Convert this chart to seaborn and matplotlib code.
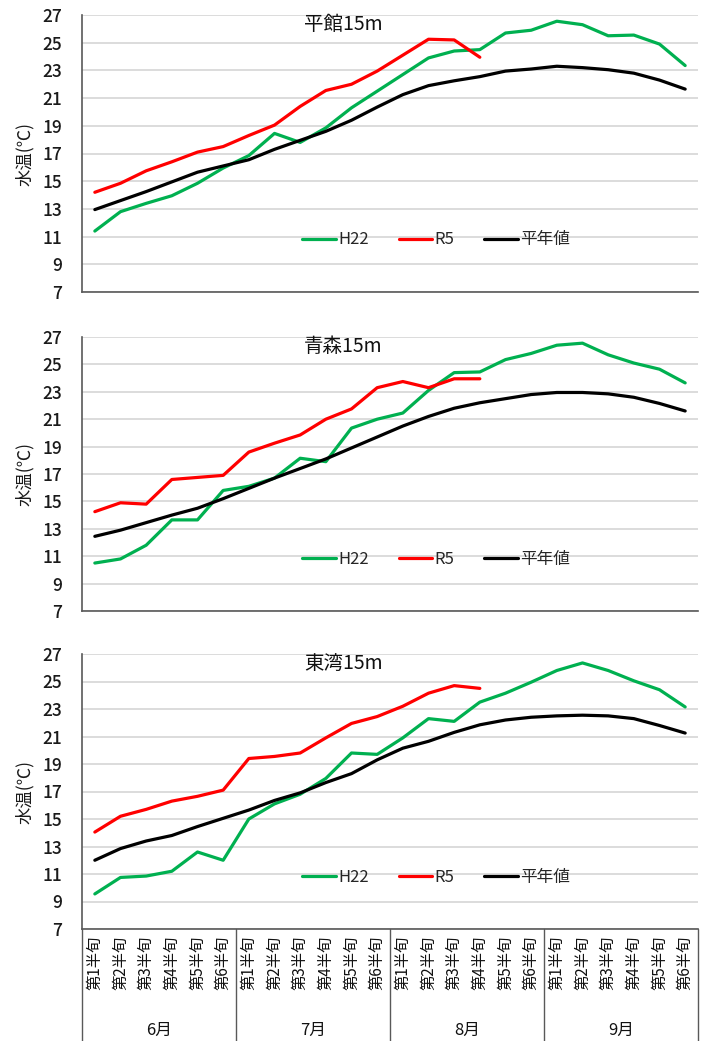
import numpy as np
import pandas as pd
import matplotlib
matplotlib.use("Agg")
import matplotlib.pyplot as plt
import matplotlib.transforms as mtransforms
import seaborn as sns

# Half-month periods (半旬) June–September
months = ["6月", "7月", "8月", "9月"]
periods = ["第1半旬", "第2半旬", "第3半旬", "第4半旬", "第5半旬", "第6半旬"]
series_names = ["H22", "R5", "平年値"]
stations = ["平館15m", "青森15m", "東湾15m"]

# 平館 15m
tairadate_h22 = [11.4, 12.8, 13.4, 13.95, 14.85, 15.95, 16.85, 18.45, 17.8, 18.85, 20.3, 21.5,
                 22.7, 23.9, 24.4, 24.5, 25.7, 25.9, 26.55, 26.3, 25.5, 25.55, 24.9, 23.35]
tairadate_r5 = [14.2, 14.85, 15.75, 16.4, 17.1, 17.5, 18.3, 19.05, 20.4, 21.55, 22.0, 22.95,
                24.1, 25.25, 25.2, 23.95]
tairadate_avg = [12.95, 13.6, 14.25, 14.95, 15.65, 16.1, 16.55, 17.3, 17.95, 18.6, 19.4, 20.35,
                 21.25, 21.9, 22.25, 22.55, 22.95, 23.1, 23.3, 23.2, 23.05, 22.8, 22.3, 21.65]

# 青森 15m
aomori_h22 = [10.5, 10.8, 11.8, 13.65, 13.65, 15.8, 16.1, 16.7, 18.15, 17.9, 20.35, 21.0,
              21.45, 23.1, 24.4, 24.45, 25.35, 25.8, 26.4, 26.55, 25.7, 25.1, 24.65, 23.65]
aomori_r5 = [14.25, 14.9, 14.8, 16.6, 16.75, 16.9, 18.6, 19.25, 19.85, 21.0, 21.75, 23.3,
             23.75, 23.3, 23.95, 23.95]
aomori_avg = [12.45, 12.9, 13.45, 14.0, 14.5, 15.2, 15.95, 16.7, 17.4, 18.1, 18.9, 19.7,
              20.5, 21.2, 21.8, 22.2, 22.5, 22.8, 22.95, 22.95, 22.85, 22.6, 22.15, 21.6]

# 東湾 15m
higashi_h22 = [9.55, 10.75, 10.85, 11.2, 12.6, 12.0, 15.0, 16.1, 16.8, 17.95, 19.8, 19.7,
               20.9, 22.3, 22.1, 23.5, 24.15, 24.95, 25.8, 26.35, 25.8, 25.05, 24.4, 23.15]
higashi_r5 = [14.05, 15.2, 15.7, 16.3, 16.65, 17.1, 19.4, 19.55, 19.8, 20.9, 21.95, 22.45,
              23.2, 24.15, 24.7, 24.5]
higashi_avg = [12.0, 12.85, 13.4, 13.8, 14.45, 15.05, 15.65, 16.35, 16.9, 17.65, 18.3, 19.3,
               20.15, 20.65, 21.3, 21.85, 22.2, 22.4, 22.5, 22.55, 22.5, 22.3, 21.8, 21.25]

station_data = [
    (tairadate_h22, tairadate_r5, tairadate_avg),
    (aomori_h22, aomori_r5, aomori_avg),
    (higashi_h22, higashi_r5, higashi_avg),
]

palette = {"H22": "#00B050", "R5": "#FF0000", "平年値": "#000000"}

sns.set_theme(style="white")
plt.rcParams["font.family"] = ["Noto Sans CJK JP", "DejaVu Sans"]

W, H = 710, 1041
fig = plt.figure(figsize=(W / 100, H / 100), dpi=100)

# panel extents in pixels (top, bottom)
panel_px = [(15, 292), (337, 611), (654, 929)]
left_px, right_px = 82, 698

n = len(months) * len(periods)

axes = []
for (top, bot), name, (h22, r5, avg) in zip(panel_px, stations, station_data):
    ax = fig.add_axes([left_px / W, 1 - bot / H, (right_px - left_px) / W, (bot - top) / H])
    axes.append(ax)

    rows = []
    for sname, vals in zip(series_names, (h22, r5, avg)):
        for i, v in enumerate(vals):
            rows.append({"x": i, "temp": v, "series": sname})
    df = pd.DataFrame(rows)

    sns.lineplot(data=df, x="x", y="temp", hue="series", hue_order=series_names,
                 palette=palette, linewidth=2.3, ax=ax, legend=False, sort=True,
                 estimator=None)

    ax.set_xlim(-0.5, n - 0.5)
    ax.set_ylim(7, 27)
    ax.set_yticks(np.arange(7, 28, 2))
    ax.tick_params(axis="y", length=0, pad=14, labelsize=12.5, labelcolor="#1a1a1a")
    for lbl in ax.get_yticklabels():
        lbl.set_fontweight("medium")
    ax.set_xticks([])
    ax.grid(axis="y", color="#d9d9d9", linewidth=1.3)
    ax.set_axisbelow(True)
    for side in ("top", "right"):
        ax.spines[side].set_visible(False)
    for side in ("left", "bottom"):
        ax.spines[side].set_color("#595959")
        ax.spines[side].set_linewidth(1.2)
    ax.set_xlabel("")
    ax.set_ylabel("水温(℃)", fontsize=12.5, color="#1a1a1a")
    ax.yaxis.set_label_coords(-0.078, 0.5)

    ax.text(0.424, 0.967, name, transform=ax.transAxes, ha="center", va="center",
            fontsize=14, color="#111111")

    handles = [plt.Line2D([], [], color=palette[s], linewidth=2.3) for s in series_names]
    ax.legend(handles, series_names, loc="center", bbox_to_anchor=(0.575, 0.188), ncol=3,
              frameon=False, fontsize=12, handlelength=2.0, handletextpad=0.15,
              columnspacing=1.8)

# category axis beneath the bottom panel
ax = axes[-1]
trans = mtransforms.blended_transform_factory(ax.transData, ax.transAxes)
depth = (H - panel_px[-1][1]) / (panel_px[-1][1] - panel_px[-1][0])
for k in range(len(months) + 1):
    xb = -0.5 + k * len(periods)
    ax.plot([xb, xb], [0, -depth], transform=trans, color="#595959", linewidth=1.0,
            clip_on=False)
for m, month in enumerate(months):
    for p, per in enumerate(periods):
        xi = m * len(periods) + p
        ax.text(xi, -0.125, per, transform=trans, rotation=90, ha="center", va="center",
                fontsize=11, color="#111111")
    ax.text(m * len(periods) + (len(periods) - 1) / 2, -0.367, month, transform=trans,
            ha="center", va="center", fontsize=12, color="#111111")

fig.savefig("out.png", dpi=100)
